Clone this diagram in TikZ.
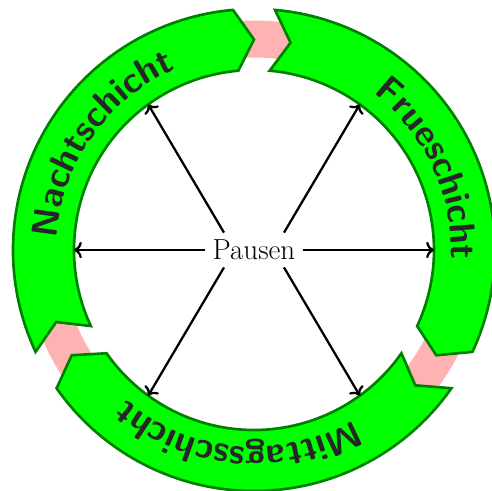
\documentclass[tikz,border=0pt]{standalone}
\usepackage{tikz}
\usetikzlibrary{arrows.meta, positioning, calc, decorations.text}
\definecolor{SchichtGreen}{RGB}{0,255,0}
\definecolor{SchichtRand}{RGB}{0,128,0}
\definecolor{PauseRosa}{RGB}{255,178,178}

\begin{document}
\begin{tikzpicture}[
    schicht/.style={draw=SchichtRand,fill=SchichtGreen,line width=1.5pt},
    band/.style={draw=PauseRosa,line width=0.74cm},
    pfeil/.style={->,line width=1.3pt},
    beschrift/.style={decorate,decoration={text along path,text align=center,
                      text color=black!85}}
  ]
  \useasboundingbox (-5.08,-4.8) rectangle (4.76,5.0);
  % pink ring behind the shifts
  \draw[band] (0,0) circle[radius=4.22];
  % three shift arrows, 120 degrees apart
  \foreach \a in {85,-35,205}
    \draw[schicht] (\a:4.82) arc[start angle=\a,end angle=\a-110,radius=4.82]
      -- (\a-115:4.21) -- (\a-110:3.6)
      arc[start angle=\a-110,end angle=\a,radius=3.6] -- (\a-5:4.21) -- cycle;
  \path[beschrift,decoration={text={|\huge\sffamily\bfseries|Frueschicht}}]
    (85:3.94) arc[start angle=85,end angle=-35,radius=3.94];
  \path[beschrift,decoration={text={|\huge\sffamily\bfseries|Mittagsschicht}}]
    (-35:3.94) arc[start angle=-35,end angle=-155,radius=3.94];
  \path[beschrift,decoration={text={|\huge\sffamily\bfseries|Nachtschicht}}]
    (205:3.94) arc[start angle=205,end angle=85,radius=3.94];

  \node[font=\fontsize{16.5}{19}\selectfont,inner sep=4pt] (pausen) at (0,0) {Pausen};
  \coordinate (z0) at (0:3.6);
  \coordinate (z1) at (54:3.6);
  \coordinate (z2) at (126:3.6);
  \coordinate (z3) at (180:3.6);
  \coordinate (z4) at (234:3.6);
  \coordinate (z5) at (306:3.6);
  \draw[pfeil] (pausen.east) -- (z0);
  \draw[pfeil] ([xshift=0.6cm]pausen.north) -- (z1);
  \draw[pfeil] ([xshift=-0.6cm]pausen.north) -- (z2);
  \draw[pfeil] (pausen.west) -- (z3);
  \draw[pfeil] ([xshift=-0.6cm]pausen.south) -- (z4);
  \draw[pfeil] ([xshift=0.6cm]pausen.south) -- (z5);
\end{tikzpicture}
\end{document}
